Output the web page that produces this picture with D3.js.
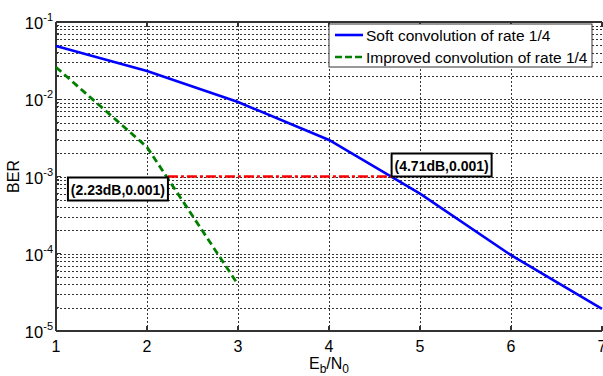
<!DOCTYPE html>
<html>
<head>
<meta charset="utf-8">
<script src="https://cdn.jsdelivr.net/npm/d3@7"></script>
<style>
  body { margin: 0; background: #fff; }
  text { font-family: Arial, "Liberation Sans", sans-serif; }
</style>
</head>
<body>
<script>
// data
const ebno = [1, 2, 3, 4, 5, 6, 7];
const softBer = [0.049, 0.0232, 0.0092, 0.00297, 0.0006, 0.000096, 0.0000193];
const improvedEbno = [1, 2, 3];
const improvedBer = [0.026, 0.0024, 0.00004];
const xTicks = [1, 2, 3, 4, 5, 6, 7];
const yDecades = [-5, -4, -3, -2, -1];
const markers = [
    { x: 2.23, y: 0.001, label: "(2.23dB,0.001)" },
    { x: 4.71, y: 0.001, label: "(4.71dB,0.001)" }
];
const legendNames = ["Soft convolution of rate 1/4", "Improved convolution of rate 1/4"];

const width = 603, height = 376;
const margin = { top: 22, right: 1, bottom: 45, left: 56 };

const svg = d3.select("body").append("svg")
    .attr("width", width)
    .attr("height", height);

const x = d3.scaleLinear().domain([1, 7]).range([margin.left, width - margin.right]);
const y = d3.scaleLog().domain([1e-5, 1e-1]).range([height - margin.bottom, margin.top]);

// minor values for log grid
const minorVals = [];
yDecades.slice(0, -1).forEach(p => {
    for (let k = 1; k <= 9; k++) minorVals.push(k * Math.pow(10, p));
});
minorVals.push(1e-1);

// grid (dotted)
const grid = svg.append("g")
    .attr("stroke", "#333")
    .attr("stroke-width", 1)
    .attr("stroke-dasharray", "2,2")
    .attr("shape-rendering", "crispEdges");

grid.selectAll(".hg").data(minorVals).join("line")
    .attr("x1", x(1)).attr("x2", x(7))
    .attr("y1", d => Math.round(y(d)) + 0.5).attr("y2", d => Math.round(y(d)) + 0.5);

grid.selectAll(".vg").data(xTicks.slice(1, -1)).join("line")
    .attr("x1", d => Math.round(x(d)) + 0.5).attr("x2", d => Math.round(x(d)) + 0.5)
    .attr("y1", y(1e-5)).attr("y2", y(1e-1));

// frame
const frame = svg.append("g").attr("stroke", "#333").attr("stroke-width", 1.2).attr("shape-rendering", "crispEdges");
frame.append("line").attr("x1", x(1)).attr("x2", x(1)).attr("y1", y(1e-5)).attr("y2", y(1e-1));
frame.append("line").attr("x1", x(1)).attr("x2", x(7)).attr("y1", y(1e-5)).attr("y2", y(1e-5));
frame.append("line").attr("x1", x(1)).attr("x2", x(7)).attr("y1", y(1e-1)).attr("y2", y(1e-1));

// ticks inward
frame.selectAll(".xt").data(xTicks).join("line")
    .attr("x1", d => x(d)).attr("x2", d => x(d))
    .attr("y1", y(1e-5)).attr("y2", y(1e-5) - 5);
frame.selectAll(".xt2").data(xTicks).join("line")
    .attr("x1", d => x(d)).attr("x2", d => x(d))
    .attr("y1", y(1e-1)).attr("y2", y(1e-1) + 5);
frame.selectAll(".yt").data(minorVals).join("line")
    .attr("x1", x(1))
    .attr("x2", d => x(1) + (Math.abs(Math.log10(d) - Math.round(Math.log10(d))) < 1e-9 ? 5 : 3))
    .attr("y1", d => y(d)).attr("y2", d => y(d));

// x tick labels
svg.selectAll(".xl").data(xTicks).join("text")
    .attr("x", d => x(d))
    .attr("y", y(1e-5) + 21)
    .attr("text-anchor", "middle")
    .attr("font-size", 16)
    .text(d => d);

// y tick labels 10^p
const yl = svg.selectAll(".yl").data(yDecades).join("text")
    .attr("x", 53)
    .attr("y", d => y(Math.pow(10, d)) + 7)
    .attr("text-anchor", "end")
    .attr("font-size", 16.5);
yl.append("tspan").text("10");
yl.append("tspan").attr("font-size", 11).attr("dy", -8).text(d => d);

// axis titles
const xt = svg.append("text")
    .attr("x", x(4))
    .attr("y", 369)
    .attr("text-anchor", "middle")
    .attr("font-size", 16);
xt.append("tspan").text("E");
xt.append("tspan").attr("font-size", 12).attr("dy", 4).text("b");
xt.append("tspan").attr("dy", -4).text("/N");
xt.append("tspan").attr("font-size", 12).attr("dy", 4).text("0");

svg.append("text")
    .attr("transform", `translate(19,${y(1e-3)}) rotate(-90)`)
    .attr("text-anchor", "middle")
    .attr("font-size", 16)
    .text("BER");

// curves
const line = d3.line().x(d => x(d[0])).y(d => y(d[1]));

svg.append("path")
    .datum(d3.zip(ebno, softBer))
    .attr("fill", "none")
    .attr("stroke", "#0000ff")
    .attr("stroke-width", 2.6)
    .attr("d", line);

svg.append("path")
    .datum(d3.zip(improvedEbno, improvedBer))
    .attr("fill", "none")
    .attr("stroke", "#007f00")
    .attr("stroke-width", 2.8)
    .attr("stroke-dasharray", "7,4")
    .attr("d", line);

// red dash-dot between the two 0.001 points
svg.append("line")
    .attr("x1", x(markers[0].x)).attr("x2", x(markers[1].x))
    .attr("y1", y(markers[0].y)).attr("y2", y(markers[1].y))
    .attr("stroke", "#ff0000")
    .attr("stroke-width", 2.6)
    .attr("stroke-dasharray", "10,3,3,3");

// annotation boxes
const boxPos = [{ dx: -100, dy: 1 }, { dx: -2, dy: -23 }];
markers.forEach((m, i) => {
    const g = svg.append("g")
        .attr("transform", `translate(${x(m.x) + boxPos[i].dx},${y(m.y) + boxPos[i].dy})`);
    g.append("rect")
        .attr("width", 100).attr("height", 23)
        .attr("fill", "#fff")
        .attr("stroke", "#000")
        .attr("stroke-width", 2);
    g.append("text")
        .attr("x", 50).attr("y", 17)
        .attr("text-anchor", "middle")
        .attr("font-size", 14)
        .attr("font-weight", "bold")
        .text(m.label);
});

// legend
const legend = svg.append("g").attr("transform", "translate(329,24)");
legend.append("rect")
    .attr("width", 263).attr("height", 43)
    .attr("fill", "#fff")
    .attr("stroke", "#333")
    .attr("stroke-width", 1);
const legStyles = [
    { color: "#0000ff", dash: null },
    { color: "#007f00", dash: "7,3" }
];
legendNames.forEach((name, i) => {
    const ly = 11 + i * 22;
    legend.append("line")
        .attr("x1", 6).attr("x2", 34)
        .attr("y1", ly).attr("y2", ly)
        .attr("stroke", legStyles[i].color)
        .attr("stroke-width", 2.6)
        .attr("stroke-dasharray", legStyles[i].dash);
    legend.append("text")
        .attr("x", 37).attr("y", ly + 6)
        .attr("font-size", 15.5)
        .text(name);
});
</script>
</body>
</html>
